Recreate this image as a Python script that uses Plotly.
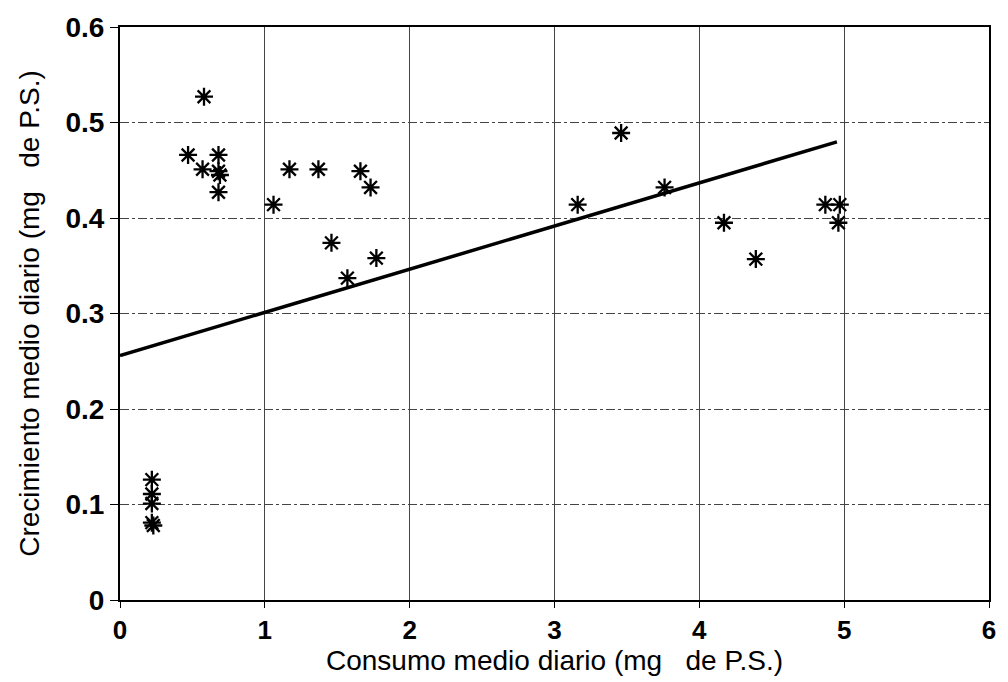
import plotly.graph_objects as go

# Consumo medio diario (mg de P.S.) y crecimiento medio diario (mg de P.S.)
consumo = [0.58, 0.47, 0.68, 0.57, 0.68, 0.69, 0.68,
           1.06, 1.17, 1.37, 1.66, 1.73,
           1.46, 1.77, 1.57,
           0.22, 0.22, 0.22, 0.22, 0.23,
           3.46, 3.76, 3.16, 4.17, 4.39,
           4.87, 4.97, 4.96]
crecimiento = [0.527, 0.466, 0.466, 0.451, 0.449, 0.445, 0.427,
               0.414, 0.451, 0.451, 0.449, 0.432,
               0.374, 0.358, 0.337,
               0.126, 0.111, 0.101, 0.081, 0.078,
               0.489, 0.432, 0.414, 0.395, 0.357,
               0.414, 0.414, 0.395]

# Recta de regresión
fit_intercept = 0.256
fit_slope = 0.0452
fit_x = [0.0, 4.95]
fit_y = [fit_intercept + fit_slope * v for v in fit_x]

x_ticks = [0, 1, 2, 3, 4, 5, 6]
y_ticks = [0, 0.1, 0.2, 0.3, 0.4, 0.5, 0.6]
y_tick_text = ["0", "0.1", "0.2", "0.3", "0.4", "0.5", "0.6"]

fig = go.Figure()
fig.add_trace(go.Scatter(
    x=fit_x, y=fit_y, mode="lines",
    line=dict(color="black", width=3.5), showlegend=False, hoverinfo="skip",
))
fig.add_trace(go.Scatter(
    x=consumo, y=crecimiento, mode="markers",
    marker=dict(symbol="asterisk-open", size=15, color="black",
                line=dict(color="black", width=2.3)),
    showlegend=False,
))

font = "Liberation Sans, Arial, sans-serif"
fig.update_layout(
    width=1008, height=682,
    margin=dict(l=120, r=15, t=18, b=82),
    paper_bgcolor="white", plot_bgcolor="white",
    font=dict(family=font, color="black"),
    xaxis=dict(
        range=[0, 6], tickvals=x_ticks, ticks="outside", ticklen=6,
        tickcolor="black", tickwidth=1,
        tickfont=dict(size=26, family=font, weight="bold"),
        showgrid=True, gridcolor="#444", gridwidth=1,
        showline=True, linecolor="black", linewidth=2, mirror=True,
        zeroline=False,
        title=dict(text="Consumo medio diario (mg   de P.S.)",
                   font=dict(size=28, family=font), standoff=2),
    ),
    yaxis=dict(
        range=[0, 0.6], tickvals=y_ticks, ticktext=y_tick_text,
        ticks="outside", ticklen=8, tickcolor="black", tickwidth=1,
        tickfont=dict(size=28, family=font, weight="bold"),
        showgrid=True, gridcolor="#444", gridwidth=1, griddash="dashdot",
        showline=True, linecolor="black", linewidth=2, mirror=True,
        zeroline=False,
        title=dict(text="Crecimiento medio diario (mg   de P.S.)",
                   font=dict(size=28, family=font), standoff=18),
    ),
)

fig.write_html("out.html")
